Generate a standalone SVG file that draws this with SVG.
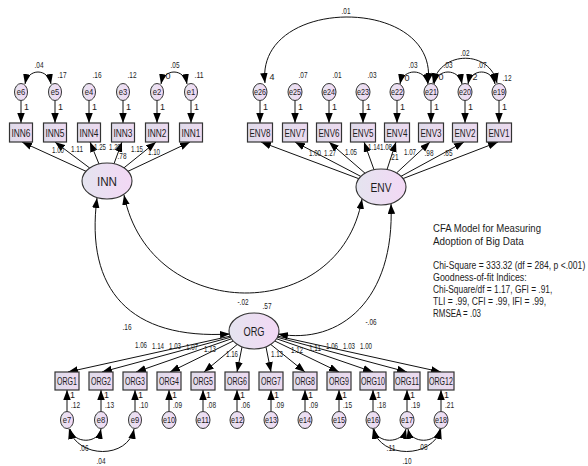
<svg xmlns="http://www.w3.org/2000/svg" width="588" height="466" viewBox="0 0 588 466">
<style>
.box{fill:url(#gb);stroke:#333;stroke-width:1.2}
.lat{fill:url(#gl);stroke:#333;stroke-width:1.1}
.err{fill:url(#gl);stroke:#333;stroke-width:1}
.c{fill:none;stroke:#111;stroke-width:1}
.t{font-family:"Liberation Sans",Arial,sans-serif;fill:#1c1c1c}
.bl{font-size:11.5px;text-anchor:middle}
.ll{font-size:13.5px;text-anchor:middle}
.el{font-size:9.5px;text-anchor:middle}
.n{font-size:9px;text-anchor:middle}
.ns{font-size:9px;text-anchor:start}
.info{font-size:11.5px}
</style>
<defs>
<linearGradient id="gb" x1="0" y1="0" x2="1" y2="0"><stop offset="0" stop-color="#dedbea"/><stop offset="1" stop-color="#eedaf0"/></linearGradient>
<linearGradient id="gl" x1="0" y1="0" x2="1" y2="0"><stop offset="0" stop-color="#e4e4ef"/><stop offset="1" stop-color="#f3d8f5"/></linearGradient>
<marker id="ah" markerUnits="userSpaceOnUse" markerWidth="11" markerHeight="8" refX="10" refY="3.75" orient="auto-start-reverse"><path d="M0,0 L10,3.75 L0,7.5 z" fill="#000"/></marker>
</defs>

<g id="connectors" class="c">
<line x1="21" y1="100.5" x2="21" y2="123" marker-end="url(#ah)"/>
<line x1="55" y1="100.5" x2="55" y2="123" marker-end="url(#ah)"/>
<line x1="89" y1="100.5" x2="89" y2="123" marker-end="url(#ah)"/>
<line x1="123" y1="100.5" x2="123" y2="123" marker-end="url(#ah)"/>
<line x1="157" y1="100.5" x2="157" y2="123" marker-end="url(#ah)"/>
<line x1="191" y1="100.5" x2="191" y2="123" marker-end="url(#ah)"/>
<line x1="260" y1="100.5" x2="260" y2="123" marker-end="url(#ah)"/>
<line x1="295" y1="100.5" x2="295" y2="123" marker-end="url(#ah)"/>
<line x1="329" y1="100.5" x2="329" y2="123" marker-end="url(#ah)"/>
<line x1="363" y1="100.5" x2="363" y2="123" marker-end="url(#ah)"/>
<line x1="397" y1="100.5" x2="397" y2="123" marker-end="url(#ah)"/>
<line x1="431" y1="100.5" x2="431" y2="123" marker-end="url(#ah)"/>
<line x1="465" y1="100.5" x2="465" y2="123" marker-end="url(#ah)"/>
<line x1="499" y1="100.5" x2="499" y2="123" marker-end="url(#ah)"/>
<line x1="67" y1="411.5" x2="67" y2="390" marker-end="url(#ah)"/>
<line x1="101" y1="411.5" x2="101" y2="390" marker-end="url(#ah)"/>
<line x1="135" y1="411.5" x2="135" y2="390" marker-end="url(#ah)"/>
<line x1="169" y1="411.5" x2="169" y2="390" marker-end="url(#ah)"/>
<line x1="203" y1="411.5" x2="203" y2="390" marker-end="url(#ah)"/>
<line x1="237" y1="411.5" x2="237" y2="390" marker-end="url(#ah)"/>
<line x1="271" y1="411.5" x2="271" y2="390" marker-end="url(#ah)"/>
<line x1="305" y1="411.5" x2="305" y2="390" marker-end="url(#ah)"/>
<line x1="339" y1="411.5" x2="339" y2="390" marker-end="url(#ah)"/>
<line x1="373" y1="411.5" x2="373" y2="390" marker-end="url(#ah)"/>
<line x1="407" y1="411.5" x2="407" y2="390" marker-end="url(#ah)"/>
<line x1="441" y1="411.5" x2="441" y2="390" marker-end="url(#ah)"/>
<line x1="86" y1="171.3" x2="22" y2="142" marker-end="url(#ah)"/>
<line x1="89.7" y1="168" x2="55" y2="142" marker-end="url(#ah)"/>
<line x1="99" y1="164" x2="90" y2="142" marker-end="url(#ah)"/>
<line x1="114" y1="163.7" x2="122" y2="142" marker-end="url(#ah)"/>
<line x1="124" y1="167.8" x2="156" y2="142" marker-end="url(#ah)"/>
<line x1="128" y1="171.3" x2="190" y2="142" marker-end="url(#ah)"/>
<line x1="358.8" y1="178.7" x2="261" y2="142" marker-end="url(#ah)"/>
<line x1="360.8" y1="176.4" x2="295" y2="142" marker-end="url(#ah)"/>
<line x1="365" y1="173.2" x2="329" y2="142" marker-end="url(#ah)"/>
<line x1="374" y1="169.7" x2="364" y2="142" marker-end="url(#ah)"/>
<line x1="387" y1="169.6" x2="396" y2="142" marker-end="url(#ah)"/>
<line x1="396.6" y1="172.9" x2="430" y2="142" marker-end="url(#ah)"/>
<line x1="401" y1="176.3" x2="464" y2="142" marker-end="url(#ah)"/>
<line x1="403" y1="178.6" x2="498" y2="142" marker-end="url(#ah)"/>
<line x1="230.1" y1="336.2" x2="68" y2="372" marker-end="url(#ah)"/>
<line x1="230.6" y1="337.3" x2="102" y2="372" marker-end="url(#ah)"/>
<line x1="231.4" y1="338.8" x2="136" y2="372" marker-end="url(#ah)"/>
<line x1="233.2" y1="341" x2="170" y2="372" marker-end="url(#ah)"/>
<line x1="237.3" y1="344.4" x2="204" y2="372" marker-end="url(#ah)"/>
<line x1="242" y1="347" x2="237" y2="372" marker-end="url(#ah)"/>
<line x1="266" y1="347" x2="271" y2="372" marker-end="url(#ah)"/>
<line x1="270.7" y1="344.4" x2="305" y2="372" marker-end="url(#ah)"/>
<line x1="274.8" y1="341" x2="339" y2="372" marker-end="url(#ah)"/>
<line x1="276.6" y1="338.8" x2="373" y2="372" marker-end="url(#ah)"/>
<line x1="277.4" y1="337.3" x2="407" y2="372" marker-end="url(#ah)"/>
<line x1="277.9" y1="336.2" x2="441" y2="372" marker-end="url(#ah)"/>
<path d="M97,198 C85,290 130,340 230,334" marker-start="url(#ah)" marker-end="url(#ah)"/>
<path d="M124,195 C150,325 340,325 362,199" marker-start="url(#ah)" marker-end="url(#ah)"/>
<path d="M391,204 C395,300 340,345 278,334" marker-start="url(#ah)" marker-end="url(#ah)"/>
<path d="M25,84 C28,68 48,68 51,84" marker-start="url(#ah)" marker-end="url(#ah)"/>
<path d="M161,84 C164,68 184,68 187,84" marker-start="url(#ah)" marker-end="url(#ah)"/>
<path d="M265,83 C255,-5 440,-5 428,83" marker-start="url(#ah)" marker-end="url(#ah)"/>
<path d="M400,84 C403,68 425,68 428,84" marker-start="url(#ah)" marker-end="url(#ah)"/>
<path d="M434,84 C437,68 459,68 462,84" marker-start="url(#ah)" marker-end="url(#ah)"/>
<path d="M468,84 C471,68 492,68 495,84" marker-start="url(#ah)" marker-end="url(#ah)"/>
<path d="M433,83 C441,50 490,50 497,83" marker-start="url(#ah)" marker-end="url(#ah)"/>
<path d="M70,429 C74,444 98,444 101,429" marker-start="url(#ah)" marker-end="url(#ah)"/>
<path d="M69,429 C78,459 128,459 134,429" marker-start="url(#ah)" marker-end="url(#ah)"/>
<path d="M374,429 C377,444 402,444 406,429" marker-start="url(#ah)" marker-end="url(#ah)"/>
<path d="M408,429 C411,444 436,444 440,429" marker-start="url(#ah)" marker-end="url(#ah)"/>
<path d="M373,429 C381,459 432,459 441,429" marker-start="url(#ah)" marker-end="url(#ah)"/>
</g>

<g id="INN" class="t"><ellipse class="lat" cx="107" cy="181" rx="25" ry="18"/><text class="ll" x="107" y="186" textLength="20" lengthAdjust="spacingAndGlyphs">INN</text></g>
<g id="ENV" class="t"><ellipse class="lat" cx="381" cy="187" rx="25" ry="18"/><text class="ll" x="381" y="192" textLength="21" lengthAdjust="spacingAndGlyphs">ENV</text></g>
<g id="ORG" class="t"><ellipse class="lat" cx="254" cy="331" rx="25" ry="18"/><text class="ll" x="254" y="336" textLength="21" lengthAdjust="spacingAndGlyphs">ORG</text></g>

<g id="INN6" class="t"><rect class="box" x="9.5" y="123" width="23" height="19"/><text class="bl" x="21" y="136.5" textLength="19" lengthAdjust="spacingAndGlyphs">INN6</text></g>
<g id="INN5" class="t"><rect class="box" x="43.5" y="123" width="23" height="19"/><text class="bl" x="55" y="136.5" textLength="19" lengthAdjust="spacingAndGlyphs">INN5</text></g>
<g id="INN4" class="t"><rect class="box" x="77.5" y="123" width="23" height="19"/><text class="bl" x="89" y="136.5" textLength="19" lengthAdjust="spacingAndGlyphs">INN4</text></g>
<g id="INN3" class="t"><rect class="box" x="111.5" y="123" width="23" height="19"/><text class="bl" x="123" y="136.5" textLength="19" lengthAdjust="spacingAndGlyphs">INN3</text></g>
<g id="INN2" class="t"><rect class="box" x="145.5" y="123" width="23" height="19"/><text class="bl" x="157" y="136.5" textLength="19" lengthAdjust="spacingAndGlyphs">INN2</text></g>
<g id="INN1" class="t"><rect class="box" x="179.5" y="123" width="23" height="19"/><text class="bl" x="191" y="136.5" textLength="19" lengthAdjust="spacingAndGlyphs">INN1</text></g>

<g id="ENV8" class="t"><rect class="box" x="247.5" y="123" width="25" height="19"/><text class="bl" x="260" y="136.5" textLength="21" lengthAdjust="spacingAndGlyphs">ENV8</text></g>
<g id="ENV7" class="t"><rect class="box" x="282.5" y="123" width="25" height="19"/><text class="bl" x="295" y="136.5" textLength="21" lengthAdjust="spacingAndGlyphs">ENV7</text></g>
<g id="ENV6" class="t"><rect class="box" x="316.5" y="123" width="25" height="19"/><text class="bl" x="329" y="136.5" textLength="21" lengthAdjust="spacingAndGlyphs">ENV6</text></g>
<g id="ENV5" class="t"><rect class="box" x="350.5" y="123" width="25" height="19"/><text class="bl" x="363" y="136.5" textLength="21" lengthAdjust="spacingAndGlyphs">ENV5</text></g>
<g id="ENV4" class="t"><rect class="box" x="384.5" y="123" width="25" height="19"/><text class="bl" x="397" y="136.5" textLength="21" lengthAdjust="spacingAndGlyphs">ENV4</text></g>
<g id="ENV3" class="t"><rect class="box" x="418.5" y="123" width="25" height="19"/><text class="bl" x="431" y="136.5" textLength="21" lengthAdjust="spacingAndGlyphs">ENV3</text></g>
<g id="ENV2" class="t"><rect class="box" x="452.5" y="123" width="25" height="19"/><text class="bl" x="465" y="136.5" textLength="21" lengthAdjust="spacingAndGlyphs">ENV2</text></g>
<g id="ENV1" class="t"><rect class="box" x="486.5" y="123" width="25" height="19"/><text class="bl" x="499" y="136.5" textLength="21" lengthAdjust="spacingAndGlyphs">ENV1</text></g>

<g id="ORG1" class="t"><rect class="box" x="55" y="372" width="24" height="18"/><text class="bl" x="67" y="385.2" textLength="20" lengthAdjust="spacingAndGlyphs">ORG1</text></g>
<g id="ORG2" class="t"><rect class="box" x="89" y="372" width="24" height="18"/><text class="bl" x="101" y="385.2" textLength="20" lengthAdjust="spacingAndGlyphs">ORG2</text></g>
<g id="ORG3" class="t"><rect class="box" x="123" y="372" width="24" height="18"/><text class="bl" x="135" y="385.2" textLength="20" lengthAdjust="spacingAndGlyphs">ORG3</text></g>
<g id="ORG4" class="t"><rect class="box" x="157" y="372" width="24" height="18"/><text class="bl" x="169" y="385.2" textLength="20" lengthAdjust="spacingAndGlyphs">ORG4</text></g>
<g id="ORG5" class="t"><rect class="box" x="191" y="372" width="24" height="18"/><text class="bl" x="203" y="385.2" textLength="20" lengthAdjust="spacingAndGlyphs">ORG5</text></g>
<g id="ORG6" class="t"><rect class="box" x="225" y="372" width="24" height="18"/><text class="bl" x="237" y="385.2" textLength="20" lengthAdjust="spacingAndGlyphs">ORG6</text></g>
<g id="ORG7" class="t"><rect class="box" x="259" y="372" width="24" height="18"/><text class="bl" x="271" y="385.2" textLength="20" lengthAdjust="spacingAndGlyphs">ORG7</text></g>
<g id="ORG8" class="t"><rect class="box" x="293" y="372" width="24" height="18"/><text class="bl" x="305" y="385.2" textLength="20" lengthAdjust="spacingAndGlyphs">ORG8</text></g>
<g id="ORG9" class="t"><rect class="box" x="327" y="372" width="24" height="18"/><text class="bl" x="339" y="385.2" textLength="20" lengthAdjust="spacingAndGlyphs">ORG9</text></g>
<g id="ORG10" class="t"><rect class="box" x="360" y="372" width="26" height="18"/><text class="bl" x="373" y="385.2" textLength="24" lengthAdjust="spacingAndGlyphs">ORG10</text></g>
<g id="ORG11" class="t"><rect class="box" x="394" y="372" width="26" height="18"/><text class="bl" x="407" y="385.2" textLength="24" lengthAdjust="spacingAndGlyphs">ORG11</text></g>
<g id="ORG12" class="t"><rect class="box" x="428" y="372" width="26" height="18"/><text class="bl" x="441" y="385.2" textLength="24" lengthAdjust="spacingAndGlyphs">ORG12</text></g>

<g id="e6" class="t"><ellipse class="err" cx="21" cy="92" rx="6.5" ry="8.5"/><text class="el" x="21" y="95.3" textLength="8.5" lengthAdjust="spacingAndGlyphs">e6</text></g>
<g id="e5" class="t"><ellipse class="err" cx="55" cy="92" rx="6.5" ry="8.5"/><text class="el" x="55" y="95.3" textLength="8.5" lengthAdjust="spacingAndGlyphs">e5</text></g>
<g id="e4" class="t"><ellipse class="err" cx="89" cy="92" rx="6.5" ry="8.5"/><text class="el" x="89" y="95.3" textLength="8.5" lengthAdjust="spacingAndGlyphs">e4</text></g>
<g id="e3" class="t"><ellipse class="err" cx="123" cy="92" rx="6.5" ry="8.5"/><text class="el" x="123" y="95.3" textLength="8.5" lengthAdjust="spacingAndGlyphs">e3</text></g>
<g id="e2" class="t"><ellipse class="err" cx="157" cy="92" rx="6.5" ry="8.5"/><text class="el" x="157" y="95.3" textLength="8.5" lengthAdjust="spacingAndGlyphs">e2</text></g>
<g id="e1" class="t"><ellipse class="err" cx="191" cy="92" rx="6.5" ry="8.5"/><text class="el" x="191" y="95.3" textLength="8.5" lengthAdjust="spacingAndGlyphs">e1</text></g>

<g id="e26" class="t"><ellipse class="err" cx="260" cy="92" rx="7" ry="8.5"/><text class="el" x="260" y="95.3" textLength="12" lengthAdjust="spacingAndGlyphs">e26</text></g>
<g id="e25" class="t"><ellipse class="err" cx="295" cy="92" rx="7" ry="8.5"/><text class="el" x="295" y="95.3" textLength="12" lengthAdjust="spacingAndGlyphs">e25</text></g>
<g id="e24" class="t"><ellipse class="err" cx="329" cy="92" rx="7" ry="8.5"/><text class="el" x="329" y="95.3" textLength="12" lengthAdjust="spacingAndGlyphs">e24</text></g>
<g id="e23" class="t"><ellipse class="err" cx="363" cy="92" rx="7" ry="8.5"/><text class="el" x="363" y="95.3" textLength="12" lengthAdjust="spacingAndGlyphs">e23</text></g>
<g id="e22" class="t"><ellipse class="err" cx="397" cy="92" rx="7" ry="8.5"/><text class="el" x="397" y="95.3" textLength="12" lengthAdjust="spacingAndGlyphs">e22</text></g>
<g id="e21" class="t"><ellipse class="err" cx="431" cy="92" rx="7" ry="8.5"/><text class="el" x="431" y="95.3" textLength="12" lengthAdjust="spacingAndGlyphs">e21</text></g>
<g id="e20" class="t"><ellipse class="err" cx="465" cy="92" rx="7" ry="8.5"/><text class="el" x="465" y="95.3" textLength="12" lengthAdjust="spacingAndGlyphs">e20</text></g>
<g id="e19" class="t"><ellipse class="err" cx="499" cy="92" rx="7" ry="8.5"/><text class="el" x="499" y="95.3" textLength="12" lengthAdjust="spacingAndGlyphs">e19</text></g>

<g id="e7" class="t"><ellipse class="err" cx="67" cy="420" rx="6.5" ry="8.5"/><text class="el" x="67" y="423.3" textLength="8.5" lengthAdjust="spacingAndGlyphs">e7</text></g>
<g id="e8" class="t"><ellipse class="err" cx="101" cy="420" rx="6.5" ry="8.5"/><text class="el" x="101" y="423.3" textLength="8.5" lengthAdjust="spacingAndGlyphs">e8</text></g>
<g id="e9" class="t"><ellipse class="err" cx="135" cy="420" rx="6.5" ry="8.5"/><text class="el" x="135" y="423.3" textLength="8.5" lengthAdjust="spacingAndGlyphs">e9</text></g>
<g id="e10" class="t"><ellipse class="err" cx="169" cy="420" rx="7" ry="8.5"/><text class="el" x="169" y="423.3" textLength="12" lengthAdjust="spacingAndGlyphs">e10</text></g>
<g id="e11" class="t"><ellipse class="err" cx="203" cy="420" rx="7" ry="8.5"/><text class="el" x="203" y="423.3" textLength="12" lengthAdjust="spacingAndGlyphs">e11</text></g>
<g id="e12" class="t"><ellipse class="err" cx="237" cy="420" rx="7" ry="8.5"/><text class="el" x="237" y="423.3" textLength="12" lengthAdjust="spacingAndGlyphs">e12</text></g>
<g id="e13" class="t"><ellipse class="err" cx="271" cy="420" rx="7" ry="8.5"/><text class="el" x="271" y="423.3" textLength="12" lengthAdjust="spacingAndGlyphs">e13</text></g>
<g id="e14" class="t"><ellipse class="err" cx="305" cy="420" rx="7" ry="8.5"/><text class="el" x="305" y="423.3" textLength="12" lengthAdjust="spacingAndGlyphs">e14</text></g>
<g id="e15" class="t"><ellipse class="err" cx="339" cy="420" rx="7" ry="8.5"/><text class="el" x="339" y="423.3" textLength="12" lengthAdjust="spacingAndGlyphs">e15</text></g>
<g id="e16" class="t"><ellipse class="err" cx="373" cy="420" rx="7" ry="8.5"/><text class="el" x="373" y="423.3" textLength="12" lengthAdjust="spacingAndGlyphs">e16</text></g>
<g id="e17" class="t"><ellipse class="err" cx="407" cy="420" rx="7" ry="8.5"/><text class="el" x="407" y="423.3" textLength="12" lengthAdjust="spacingAndGlyphs">e17</text></g>
<g id="e18" class="t"><ellipse class="err" cx="441" cy="420" rx="7" ry="8.5"/><text class="el" x="441" y="423.3" textLength="12" lengthAdjust="spacingAndGlyphs">e18</text></g>

<g id="labels" class="t">
<text class="n" x="39" y="68" textLength="9" lengthAdjust="spacingAndGlyphs">.04</text>
<text class="n" x="175" y="68" textLength="9" lengthAdjust="spacingAndGlyphs">.05</text>
<text class="n" x="62" y="78" textLength="9" lengthAdjust="spacingAndGlyphs">.17</text>
<text class="n" x="97" y="78" textLength="9" lengthAdjust="spacingAndGlyphs">.16</text>
<text class="n" x="132" y="78" textLength="9" lengthAdjust="spacingAndGlyphs">.12</text>
<text class="n" x="168" y="79">0</text>
<text class="n" x="199" y="78" textLength="9" lengthAdjust="spacingAndGlyphs">.11</text>
<text class="ns" x="24" y="110">1</text>
<text class="ns" x="58" y="110">1</text>
<text class="ns" x="92" y="110">1</text>
<text class="ns" x="126" y="110">1</text>
<text class="ns" x="160" y="110">1</text>
<text class="ns" x="194" y="110">1</text>
<text class="n" x="58" y="153" textLength="12" lengthAdjust="spacingAndGlyphs">1.00</text>
<text class="n" x="77" y="152" textLength="12" lengthAdjust="spacingAndGlyphs">1.11</text>
<text class="n" x="100" y="150" textLength="12" lengthAdjust="spacingAndGlyphs">1.25</text>
<text class="n" x="115" y="150" textLength="12" lengthAdjust="spacingAndGlyphs">1.29</text>
<text class="n" x="122" y="159" textLength="9" lengthAdjust="spacingAndGlyphs">.78</text>
<text class="n" x="137" y="152" textLength="12" lengthAdjust="spacingAndGlyphs">1.15</text>
<text class="n" x="154" y="155" textLength="12" lengthAdjust="spacingAndGlyphs">1.10</text>
<text class="n" x="346" y="14" textLength="9" lengthAdjust="spacingAndGlyphs">.01</text>
<text class="n" x="413" y="68" textLength="9" lengthAdjust="spacingAndGlyphs">.03</text>
<text class="n" x="448" y="68" textLength="9" lengthAdjust="spacingAndGlyphs">.03</text>
<text class="n" x="482" y="68" textLength="9" lengthAdjust="spacingAndGlyphs">.07</text>
<text class="n" x="465" y="56" textLength="9" lengthAdjust="spacingAndGlyphs">.02</text>
<text class="n" x="272" y="80">4</text>
<text class="n" x="303" y="78" textLength="9" lengthAdjust="spacingAndGlyphs">.07</text>
<text class="n" x="337" y="78" textLength="9" lengthAdjust="spacingAndGlyphs">.01</text>
<text class="n" x="372" y="78" textLength="9" lengthAdjust="spacingAndGlyphs">.03</text>
<text class="n" x="407" y="81">0</text>
<text class="n" x="441" y="80">0</text>
<text class="n" x="475" y="80">2</text>
<text class="n" x="507" y="81" textLength="9" lengthAdjust="spacingAndGlyphs">.12</text>
<text class="ns" x="263" y="110">1</text>
<text class="ns" x="298" y="110">1</text>
<text class="ns" x="332" y="110">1</text>
<text class="ns" x="366" y="110">1</text>
<text class="ns" x="400" y="110">1</text>
<text class="ns" x="434" y="110">1</text>
<text class="ns" x="468" y="110">1</text>
<text class="ns" x="502" y="110">1</text>
<text class="n" x="315" y="156" textLength="12" lengthAdjust="spacingAndGlyphs">1.00</text>
<text class="n" x="330" y="156" textLength="12" lengthAdjust="spacingAndGlyphs">1.27</text>
<text class="n" x="351" y="155" textLength="12" lengthAdjust="spacingAndGlyphs">1.05</text>
<text class="n" x="374" y="150" textLength="12" lengthAdjust="spacingAndGlyphs">1.14</text>
<text class="n" x="386" y="150" textLength="12" lengthAdjust="spacingAndGlyphs">1.08</text>
<text class="n" x="394" y="160" textLength="9" lengthAdjust="spacingAndGlyphs">.21</text>
<text class="n" x="410" y="155" textLength="12" lengthAdjust="spacingAndGlyphs">1.07</text>
<text class="n" x="429" y="156" textLength="9" lengthAdjust="spacingAndGlyphs">.98</text>
<text class="n" x="448" y="156" textLength="9" lengthAdjust="spacingAndGlyphs">.85</text>
<text class="n" x="243" y="305" textLength="11" lengthAdjust="spacingAndGlyphs">-.02</text>
<text class="n" x="267" y="309" textLength="9" lengthAdjust="spacingAndGlyphs">.57</text>
<text class="n" x="127" y="330" textLength="9" lengthAdjust="spacingAndGlyphs">.16</text>
<text class="n" x="371" y="325" textLength="11" lengthAdjust="spacingAndGlyphs">-.06</text>
<text class="n" x="141" y="348" textLength="12" lengthAdjust="spacingAndGlyphs">1.06</text>
<text class="n" x="158" y="349" textLength="12" lengthAdjust="spacingAndGlyphs">1.14</text>
<text class="n" x="175" y="349" textLength="12" lengthAdjust="spacingAndGlyphs">1.03</text>
<text class="n" x="192" y="350" textLength="12" lengthAdjust="spacingAndGlyphs">1.07</text>
<text class="n" x="210" y="352" textLength="12" lengthAdjust="spacingAndGlyphs">1.13</text>
<text class="n" x="232" y="357" textLength="12" lengthAdjust="spacingAndGlyphs">1.16</text>
<text class="n" x="277" y="357" textLength="12" lengthAdjust="spacingAndGlyphs">1.13</text>
<text class="n" x="297" y="353" textLength="12" lengthAdjust="spacingAndGlyphs">1.12</text>
<text class="n" x="315" y="351" textLength="12" lengthAdjust="spacingAndGlyphs">1.11</text>
<text class="n" x="332" y="349" textLength="12" lengthAdjust="spacingAndGlyphs">1.06</text>
<text class="n" x="349" y="349" textLength="12" lengthAdjust="spacingAndGlyphs">1.03</text>
<text class="n" x="366" y="349" textLength="12" lengthAdjust="spacingAndGlyphs">1.00</text>
<text class="ns" x="70" y="398">1</text>
<text class="ns" x="104" y="398">1</text>
<text class="ns" x="138" y="398">1</text>
<text class="ns" x="172" y="398">1</text>
<text class="ns" x="206" y="398">1</text>
<text class="ns" x="240" y="398">1</text>
<text class="ns" x="274" y="398">1</text>
<text class="ns" x="308" y="398">1</text>
<text class="ns" x="342" y="398">1</text>
<text class="ns" x="376" y="398">1</text>
<text class="ns" x="410" y="398">1</text>
<text class="ns" x="444" y="398">1</text>
<text class="ns" x="71" y="408" textLength="9" lengthAdjust="spacingAndGlyphs">.12</text>
<text class="ns" x="105" y="408" textLength="9" lengthAdjust="spacingAndGlyphs">.13</text>
<text class="ns" x="139" y="408" textLength="9" lengthAdjust="spacingAndGlyphs">.10</text>
<text class="ns" x="173" y="408" textLength="9" lengthAdjust="spacingAndGlyphs">.09</text>
<text class="ns" x="207" y="408" textLength="9" lengthAdjust="spacingAndGlyphs">.08</text>
<text class="ns" x="241" y="408" textLength="9" lengthAdjust="spacingAndGlyphs">.06</text>
<text class="ns" x="275" y="408" textLength="9" lengthAdjust="spacingAndGlyphs">.09</text>
<text class="ns" x="309" y="408" textLength="9" lengthAdjust="spacingAndGlyphs">.09</text>
<text class="ns" x="343" y="408" textLength="9" lengthAdjust="spacingAndGlyphs">.15</text>
<text class="ns" x="377" y="408" textLength="9" lengthAdjust="spacingAndGlyphs">.18</text>
<text class="ns" x="411" y="408" textLength="9" lengthAdjust="spacingAndGlyphs">.19</text>
<text class="ns" x="445" y="408" textLength="9" lengthAdjust="spacingAndGlyphs">.21</text>
<text class="n" x="84" y="451" textLength="9" lengthAdjust="spacingAndGlyphs">.06</text>
<text class="n" x="101" y="464" textLength="9" lengthAdjust="spacingAndGlyphs">.04</text>
<text class="n" x="391" y="451" textLength="9" lengthAdjust="spacingAndGlyphs">.11</text>
<text class="n" x="423" y="450" textLength="9" lengthAdjust="spacingAndGlyphs">.08</text>
<text class="n" x="407" y="464" textLength="9" lengthAdjust="spacingAndGlyphs">.10</text>
</g>

<g id="fit-info" class="t info" transform="translate(433,0) scale(0.75,1)">
<text x="0" y="232" textLength="144" lengthAdjust="spacingAndGlyphs">CFA Model for Measuring</text>
<text x="0" y="245" textLength="121" lengthAdjust="spacingAndGlyphs">Adoption of Big Data</text>
<text x="0" y="269" textLength="203" lengthAdjust="spacingAndGlyphs">Chi-Square = 333.32 (df = 284, p &lt;.001)</text>
<text x="0" y="281" textLength="125" lengthAdjust="spacingAndGlyphs">Goodness-of-fit Indices:</text>
<text x="0" y="293" textLength="159" lengthAdjust="spacingAndGlyphs">Chi-Square/df = 1.17, GFI = .91,</text>
<text x="0" y="305" textLength="151" lengthAdjust="spacingAndGlyphs">TLI = .99, CFI = .99, IFI = .99,</text>
<text x="0" y="317" textLength="64" lengthAdjust="spacingAndGlyphs">RMSEA = .03</text>
</g>
</svg>
